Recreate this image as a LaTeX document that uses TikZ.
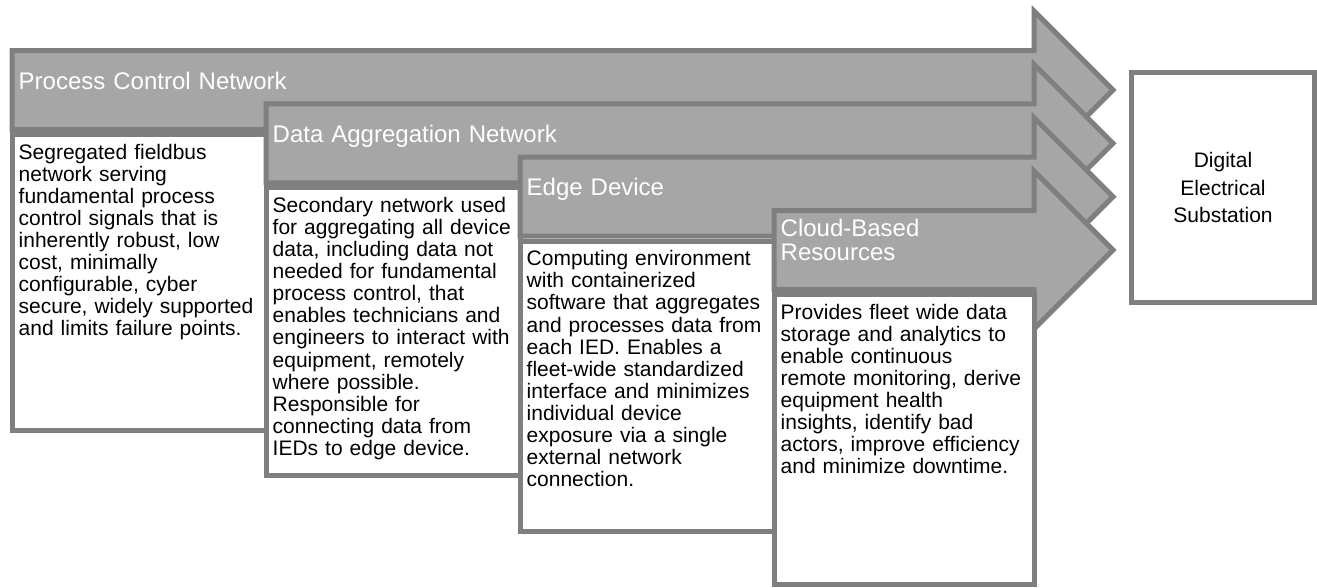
\documentclass[tikz,border=0pt]{standalone}
\usepackage{fontspec}
\setmainfont{Liberation Sans}
\definecolor{bandfill}{HTML}{A6A6A6}
\definecolor{edgegray}{HTML}{7F7F7F}
\begin{document}
\begin{tikzpicture}[x=1pt,y=-1pt,
  band/.style={fill=bandfill, draw=edgegray, line width=5pt, line join=miter},
  card/.style={fill=white, draw=edgegray, line width=5pt},
  title/.style={text=white, font=\fontsize{24}{23.3}\selectfont, anchor=base west, inner sep=0pt, text width=420pt, align=left},
  body/.style={text=black, font=\fontsize{21}{22.1}\selectfont, anchor=base west, inner sep=0pt, text width=250pt, align=left},
]
\useasboundingbox (0,0) rectangle (1317,587);

% arrow 1 and box 1
\draw[band] (12,50.5) -- (1034,50.5) -- (1034,11) -- (1113,90) -- (1034,169) -- (1034,129.5) -- (12,129.5) -- cycle;
\draw[card] (12,134.5) rectangle (266,430.5);
% arrow 2 and box 2
\draw[band] (266,103.8) -- (1034,103.8) -- (1034,64.3) -- (1113,143.3) -- (1034,222.3) -- (1034,182.8) -- (266,182.8) -- cycle;
\draw[card] (266,187.8) rectangle (520,475.5);
% arrow 3 and box 3
\draw[band] (520,157.2) -- (1034,157.2) -- (1034,117.7) -- (1113,196.7) -- (1034,275.7) -- (1034,236.2) -- (520,236.2) -- cycle;
\draw[card] (520,241.2) rectangle (774,531.5);
% arrow 4 and box 4
\draw[band] (774,210.5) -- (1034,210.5) -- (1034,171) -- (1113,250) -- (1034,329) -- (1034,289.5) -- (774,289.5) -- cycle;
\draw[card] (774,294.5) rectangle (1034,584.5);

% titles
\node[title] (t1) at (18.5,89) {Process Control Network};
\node[title] (t2) at (272.5,142.3) {Data Aggregation Network};
\node[title] (t3) at (526.5,195.7) {Edge Device};
\node[title, text width=240pt] (t4) at (780.5,236.7) {Cloud-Based\\Resources};

% bodies
\node[body] (b1) at (18.5,159) {Segregated fieldbus\\network serving\\fundamental process\\control signals that is\\inherently robust, low\\cost, minimally\\configurable, cyber\\secure, widely supported\\and limits failure points.};
\node[body] (b2) at (272.5,212.3) {Secondary network used\\for aggregating all device\\data, including data not\\needed for fundamental\\process control, that\\enables technicians and\\engineers to interact with\\equipment, remotely\\where possible.\\Responsible for\\connecting data from\\IEDs to edge device.};
\node[body] (b3) at (526.5,265.7) {Computing environment\\with containerized\\software that aggregates\\and processes data from\\each IED. Enables a\\fleet-wide standardized\\interface and minimizes\\individual device\\exposure via a single\\external network\\connection.};
\node[body] (b4) at (780.5,319) {Provides fleet wide data\\storage and analytics to\\enable continuous\\remote monitoring, derive\\equipment health\\insights, identify bad\\actors, improve efficiency\\and minimize downtime.};

% substation
\node[card, minimum width=183pt, minimum height=230pt, align=center, inner sep=0pt,
      font=\fontsize{21}{27.5}\selectfont] (sub) at (1223,187.5) {Digital\\Electrical\\Substation};
\end{tikzpicture}
\end{document}
